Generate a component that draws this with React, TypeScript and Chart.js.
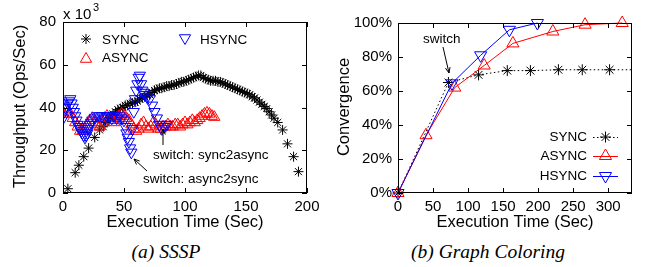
import React, { useEffect, useRef } from 'react';
import { Chart, registerables } from 'chart.js';

Chart.register(...registerables);

// ---------- (a) SSSP throughput (x10^3 ops/sec) ----------
const ssspSyncTime = [4, 10, 13, 17, 21, 26, 30, 33, 35, 37, 39, 41, 43, 45, 47, 49, 51, 53, 55, 57, 59, 61, 63, 65, 67, 69, 71, 73, 75, 77, 79, 81, 83, 85, 87, 89, 91, 93, 95, 97, 99, 101, 103, 105, 107, 109, 111, 113, 115, 117, 119, 121, 123, 125, 127, 129, 131, 133, 135, 137, 139, 141, 143, 145, 147, 149, 151, 153, 155, 157, 159, 161, 163, 165, 167, 169, 171, 173, 176, 180, 184, 189, 193];
const ssspSyncOps = [2, 9.5, 13, 17, 21, 26, 29.5, 31, 33, 34, 35, 37, 38, 39, 39.5, 40, 41, 41, 42, 42, 42.5, 43, 44, 44.5, 45, 45.5, 46, 47, 48, 48.5, 49, 49, 49.5, 50, 50, 50.5, 50.5, 51, 51.5, 52, 52, 52.5, 53, 53.5, 54, 54.5, 55, 55, 54, 53.5, 53, 52.5, 52.5, 52.5, 52, 52, 51.5, 51, 50.5, 50, 49.5, 49, 48.5, 48, 47.5, 47, 46.5, 46, 45, 44.5, 43.5, 42.5, 41.5, 40.5, 39.5, 38, 36.5, 35, 33, 29.5, 23, 17, 10];

const ssspAsyncTime = [0, 2, 4, 6, 8, 10, 12, 14, 16, 18, 20, 22, 24, 26, 28, 30, 32, 34, 36, 38, 40, 42, 44, 46, 48, 50, 52, 54, 56, 58, 60, 62, 64, 66, 68, 70, 72, 74, 76, 78, 80, 82, 84, 86, 88, 90, 92, 94, 96, 98, 100, 102, 104, 106, 108, 110, 112, 114, 116, 118, 120, 122, 124];
const ssspAsyncOps = [37, 39, 38, 37, 35, 33, 31, 29, 29, 30, 32, 34, 35, 33, 32, 31, 33, 35, 36, 35, 34, 33, 35, 36, 37, 36, 35, 34, 32, 30, 29, 30, 32, 33, 31, 30, 31, 33, 32, 30, 30, 31, 31, 32, 31, 31, 32, 32, 31, 32, 33, 32, 33, 34, 33, 34, 35, 36, 37, 37.5, 37, 36, 35.5];

const ssspHsyncTime = [0, 1, 2, 3, 4, 5, 6, 7, 8, 9, 10, 11, 12, 13, 14, 15, 16, 17, 18, 19, 20, 21, 22, 23, 24, 26, 28, 30, 32, 34, 36, 38, 40, 42, 44, 46, 48, 50, 51, 52, 53, 54, 55, 56, 57, 58, 59, 60, 61, 62, 63, 64, 65, 66, 67, 69, 71, 73, 75, 77, 79, 81, 83, 85];
const ssspHsyncOps = [35, 38, 40, 41, 42, 43, 44, 42, 40, 38, 36, 34, 32, 31, 30, 29, 28, 27, 26, 27, 28, 30, 32, 33, 34, 35, 36, 36, 36, 35, 36, 36, 35, 36, 35, 36, 35, 34, 31, 28, 26, 24, 21, 19, 30, 38, 44, 48, 51, 54, 55, 51, 48, 47, 46, 45, 44, 41, 38, 35, 32, 30, 31, 32];

const ssspXTicks = [0, 50, 100, 150, 200];
const ssspYTicks = [0, 20, 40, 60, 80];

// ---------- (b) Graph Coloring convergence (%) ----------
const gcSyncTime = [0, 72, 115, 156, 189, 229, 263, 302, 345];
const gcSyncConv = [0, 65, 69.5, 72, 72, 72.5, 72.5, 72.5, 72.5];
const gcAsyncTime = [0, 40, 81, 123, 164, 221, 267, 320];
const gcAsyncConv = [0, 34, 62, 75, 88, 95, 99, 100];
const gcHsyncTime = [0, 77, 118, 159, 199];
const gcHsyncConv = [0, 64.5, 81, 96, 100];

const gcXTicks = [0, 50, 100, 150, 200, 250, 300];
const gcYTicks = [0, 20, 40, 60, 80, 100];

const FONT = '"Liberation Sans", Arial, Helvetica, sans-serif';
const RED = '#ff0000';
const BLUE = '#0000ff';
const BLACK = '#000000';

const zip = (xs: number[], ys: number[]) => xs.map((x, i) => ({ x, y: ys[i] }));
const fixedTicks = (vals: number[]) => (s: any) => { s.ticks = vals.map((v) => ({ value: v })); };

function drawMarker(ctx: CanvasRenderingContext2D, style: string, x: number, y: number, r: number, color: string) {
  ctx.save();
  ctx.strokeStyle = color;
  ctx.lineWidth = 1;
  ctx.beginPath();
  if (style === 'star') {
    for (let a = 0; a < 4; a++) {
      const ang = (a * Math.PI) / 4;
      ctx.moveTo(x - r * Math.cos(ang), y - r * Math.sin(ang));
      ctx.lineTo(x + r * Math.cos(ang), y + r * Math.sin(ang));
    }
  } else if (style === 'up') {
    ctx.moveTo(x, y - r);
    ctx.lineTo(x + 0.866 * r, y + 0.5 * r);
    ctx.lineTo(x - 0.866 * r, y + 0.5 * r);
    ctx.closePath();
  } else {
    ctx.moveTo(x, y + r);
    ctx.lineTo(x + 0.866 * r, y - 0.5 * r);
    ctx.lineTo(x - 0.866 * r, y - 0.5 * r);
    ctx.closePath();
  }
  ctx.stroke();
  ctx.restore();
}

function drawArrow(ctx: CanvasRenderingContext2D, x1: number, y1: number, x2: number, y2: number) {
  ctx.save();
  ctx.strokeStyle = BLACK;
  ctx.lineWidth = 1;
  ctx.beginPath();
  ctx.moveTo(x1, y1);
  ctx.lineTo(x2, y2);
  const ang = Math.atan2(y2 - y1, x2 - x1);
  const hl = 6;
  ctx.moveTo(x2 - hl * Math.cos(ang - 0.4), y2 - hl * Math.sin(ang - 0.4));
  ctx.lineTo(x2, y2);
  ctx.lineTo(x2 - hl * Math.cos(ang + 0.4), y2 - hl * Math.sin(ang + 0.4));
  ctx.stroke();
  ctx.restore();
}

function frameAndTicks(chart: any, xTicks: number[], yTicks: number[]) {
  const ctx: CanvasRenderingContext2D = chart.ctx;
  const { left, right, top, bottom } = chart.chartArea;
  const xs = chart.scales.x;
  const ys = chart.scales.y;
  ctx.save();
  ctx.strokeStyle = BLACK;
  ctx.lineWidth = 1;
  ctx.strokeRect(left + 0.5, top + 0.5, right - left - 1, bottom - top - 1);
  ctx.beginPath();
  const tl = 5;
  xTicks.forEach((v) => {
    const px = Math.round(xs.getPixelForValue(v)) + 0.5;
    ctx.moveTo(px, bottom);
    ctx.lineTo(px, bottom - tl);
    ctx.moveTo(px, top);
    ctx.lineTo(px, top + tl);
  });
  yTicks.forEach((v) => {
    const py = Math.round(ys.getPixelForValue(v)) + 0.5;
    ctx.moveTo(left, py);
    ctx.lineTo(left + tl, py);
    ctx.moveTo(right, py);
    ctx.lineTo(right - tl, py);
  });
  ctx.stroke();
  ctx.restore();
}

function axisTitles(chart: any, xTitle: string, yTitle: string, yTitleX: number) {
  const ctx: CanvasRenderingContext2D = chart.ctx;
  const { left, right, top, bottom } = chart.chartArea;
  ctx.save();
  ctx.fillStyle = BLACK;
  ctx.font = `16.5px ${FONT}`;
  ctx.textAlign = 'center';
  ctx.textBaseline = 'middle';
  ctx.fillText(xTitle, (left + right) / 2, 222);
  ctx.translate(yTitleX, (top + bottom) / 2 - 1);
  ctx.rotate(-Math.PI / 2);
  ctx.fillText(yTitle, 0, 0);
  ctx.restore();
}

const hideScaleStuff = {
  grid: { display: false, drawTicks: false },
  border: { display: false },
};

function SsspChart() {
  const ref = useRef<HTMLCanvasElement>(null);
  useEffect(() => {
    const plugin = {
      id: 'ssspDecor',
      afterDraw(chart: any) {
        const ctx: CanvasRenderingContext2D = chart.ctx;
        frameAndTicks(chart, ssspXTicks, ssspYTicks);
        axisTitles(chart, 'Execution Time (Sec)', 'Throughput (Ops/Sec)', 20);
        ctx.save();
        ctx.fillStyle = BLACK;
        ctx.textBaseline = 'middle';
        ctx.textAlign = 'left';
        ctx.font = `15px ${FONT}`;
        ctx.fillText('x 10', 63, 15);
        ctx.font = `11px ${FONT}`;
        ctx.fillText('3', 93, 8);
        // legend
        ctx.font = `13.5px ${FONT}`;
        drawMarker(ctx, 'star', 86, 39, 5, BLACK);
        ctx.fillText('SYNC', 102, 40);
        drawMarker(ctx, 'up', 86, 59, 6.5, RED);
        ctx.fillText('ASYNC', 102, 58);
        drawMarker(ctx, 'down', 185, 38, 6.5, BLUE);
        ctx.fillText('HSYNC', 200, 40);
        // annotations
        ctx.fillText('switch: sync2async', 153, 155);
        ctx.fillText('switch: async2sync', 143, 179);
        ctx.restore();
        drawArrow(ctx, 163, 145, 163, 129);
        drawArrow(ctx, 147, 171, 134, 159);
      },
    };
    const tickFont = { family: FONT, size: 15 };
    const chart = new Chart(ref.current as HTMLCanvasElement, {
      type: 'scatter',
      data: {
        datasets: [
          {
            label: 'SYNC',
            data: zip(ssspSyncTime, ssspSyncOps),
            pointStyle: 'star',
            pointRadius: 5,
            borderColor: BLACK,
            backgroundColor: 'rgba(0,0,0,0)',
            borderWidth: 1,
            order: 2,
          },
          {
            label: 'ASYNC',
            data: zip(ssspAsyncTime, ssspAsyncOps),
            pointStyle: 'triangle',
            pointRadius: 6.5,
            borderColor: RED,
            backgroundColor: 'rgba(0,0,0,0)',
            borderWidth: 1,
            order: 1,
          },
          {
            label: 'HSYNC',
            data: zip(ssspHsyncTime, ssspHsyncOps),
            pointStyle: 'triangle',
            rotation: 180,
            pointRadius: 6.5,
            borderColor: BLUE,
            backgroundColor: 'rgba(0,0,0,0)',
            borderWidth: 1,
            order: 0,
          },
        ] as any,
      },
      options: {
        responsive: false,
        animation: false,
        events: [],
        layout: { padding: { left: 0, right: 19, top: 22, bottom: 0 } },
        scales: {
          x: {
            type: 'linear',
            min: 0,
            max: 200,
            ...hideScaleStuff,
            ticks: { stepSize: 50, font: tickFont, color: BLACK, padding: 5, maxRotation: 0, autoSkip: false },
            afterBuildTicks: fixedTicks(ssspXTicks),
            afterFit: (s: any) => { s.height = 47; },
          },
          y: {
            type: 'linear',
            min: 0,
            max: 80,
            ...hideScaleStuff,
            ticks: { stepSize: 20, font: tickFont, color: BLACK, padding: 7, autoSkip: false },
            afterBuildTicks: fixedTicks(ssspYTicks),
            afterFit: (s: any) => { s.width = 63; },
          },
        },
        plugins: { legend: { display: false }, tooltip: { enabled: false } },
      } as any,
      plugins: [plugin],
    });
    return () => chart.destroy();
  }, []);
  return <canvas ref={ref} width={326} height={240} style={{ position: 'absolute', left: 0, top: 0 }} />;
}

function ColoringChart() {
  const ref = useRef<HTMLCanvasElement>(null);
  useEffect(() => {
    const plugin = {
      id: 'gcDecor',
      afterDraw(chart: any) {
        const ctx: CanvasRenderingContext2D = chart.ctx;
        frameAndTicks(chart, gcXTicks, gcYTicks);
        axisTitles(chart, 'Execution Time (Sec)', 'Convergence', 18);
        ctx.save();
        ctx.fillStyle = BLACK;
        ctx.textBaseline = 'middle';
        ctx.font = `13.5px ${FONT}`;
        ctx.textAlign = 'left';
        ctx.fillText('switch', 97, 39);
        // legend
        ctx.textAlign = 'right';
        const rows: [string, string, string, boolean][] = [
          ['SYNC', 'star', BLACK, true],
          ['ASYNC', 'up', RED, false],
          ['HSYNC', 'down', BLUE, false],
        ];
        const ys = [137, 156, 176];
        rows.forEach((r, i) => {
          const y = ys[i];
          ctx.fillStyle = BLACK;
          ctx.fillText(r[0], 261, y);
          ctx.save();
          ctx.strokeStyle = r[2];
          ctx.lineWidth = 1;
          ctx.setLineDash(r[3] ? [1.5, 2.5] : []);
          ctx.beginPath();
          ctx.moveTo(267, y + 0.5);
          ctx.lineTo(292, y + 0.5);
          ctx.stroke();
          ctx.restore();
          drawMarker(ctx, r[1], 279.5, y, r[1] === 'star' ? 5.5 : 7, r[2]);
        });
        ctx.restore();
        drawArrow(ctx, 117, 47, 123, 73);
      },
    };
    const tickFont = { family: FONT, size: 15 };
    const chart = new Chart(ref.current as HTMLCanvasElement, {
      type: 'scatter',
      data: {
        datasets: [
          {
            label: 'SYNC',
            data: zip(gcSyncTime, gcSyncConv),
            showLine: true,
            borderDash: [1.5, 2.5],
            pointStyle: 'star',
            pointRadius: 5.5,
            borderColor: BLACK,
            backgroundColor: 'rgba(0,0,0,0)',
            borderWidth: 1,
            clip: { left: 10, top: 10, right: 0, bottom: 10 },
            order: 2,
          },
          {
            label: 'ASYNC',
            data: zip(gcAsyncTime, gcAsyncConv),
            showLine: true,
            pointStyle: 'triangle',
            pointRadius: 7,
            borderColor: RED,
            backgroundColor: 'rgba(0,0,0,0)',
            borderWidth: 1,
            clip: 10,
            order: 1,
          },
          {
            label: 'HSYNC',
            data: zip(gcHsyncTime, gcHsyncConv),
            showLine: true,
            pointStyle: 'triangle',
            rotation: 180,
            pointRadius: 7,
            borderColor: BLUE,
            backgroundColor: 'rgba(0,0,0,0)',
            borderWidth: 1,
            clip: 10,
            order: 0,
          },
        ] as any,
      },
      options: {
        responsive: false,
        animation: false,
        events: [],
        layout: { padding: { left: 0, right: 20, top: 23, bottom: 0 } },
        scales: {
          x: {
            type: 'linear',
            min: 0,
            max: 334,
            ...hideScaleStuff,
            ticks: { stepSize: 50, font: tickFont, color: BLACK, padding: 5, maxRotation: 0, autoSkip: false },
            afterBuildTicks: fixedTicks(gcXTicks),
            afterFit: (s: any) => { s.height = 47; },
          },
          y: {
            type: 'linear',
            min: 0,
            max: 100,
            ...hideScaleStuff,
            ticks: { stepSize: 20, font: tickFont, color: BLACK, padding: 6, autoSkip: false, callback: (v: any) => `${v}%` },
            afterBuildTicks: fixedTicks(gcYTicks),
            afterFit: (s: any) => { s.width = 72; },
          },
        },
        plugins: { legend: { display: false }, tooltip: { enabled: false } },
      } as any,
      plugins: [plugin],
    });
    return () => chart.destroy();
  }, []);
  return <canvas ref={ref} width={326} height={240} style={{ position: 'absolute', left: 326, top: 0 }} />;
}

export default function App() {
  const caption: React.CSSProperties = {
    position: 'absolute',
    top: 240,
    height: 24,
    lineHeight: '24px',
    fontFamily: '"Liberation Serif", "Times New Roman", serif',
    fontStyle: 'italic',
    fontSize: 19.5,
    color: BLACK,
    textAlign: 'center',
    whiteSpace: 'nowrap',
  };
  return (
    <div style={{ position: 'absolute', left: 0, top: 0, width: 652, height: 267, background: '#fff', overflow: 'hidden' }}>
      <SsspChart />
      <ColoringChart />
      <div style={{ ...caption, left: 66, width: 200 }}>(a) SSSP</div>
      <div style={{ ...caption, left: 388, width: 200 }}>(b) Graph Coloring</div>
    </div>
  );
}
